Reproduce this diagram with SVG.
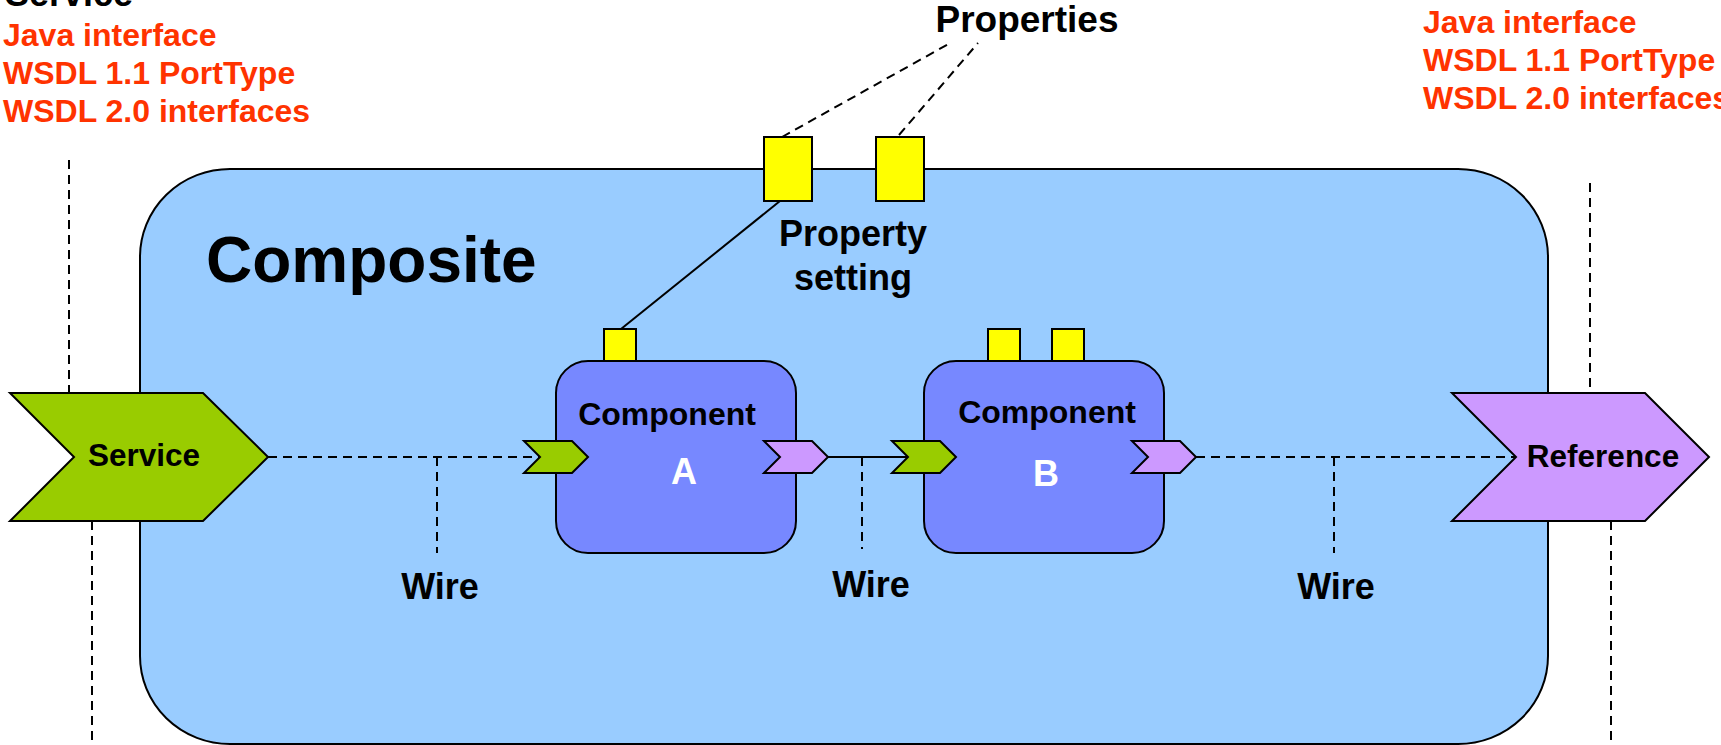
<svg xmlns="http://www.w3.org/2000/svg" width="1721" height="745" viewBox="0 0 1721 745">
<style>
text{font-family:"Liberation Sans",Arial,sans-serif;font-weight:bold;}
.red{fill:#FF3300;font-size:32px;}
.lbl{fill:#000;font-size:31.5px;text-anchor:middle;}
.cmp{fill:#000;font-size:32px;text-anchor:middle;}
.big{fill:#000;font-size:36px;text-anchor:middle;}
.white{fill:#fff;font-size:36px;text-anchor:middle;}
.dash{fill:none;stroke:#000;stroke-width:2;stroke-dasharray:9 6;}
.solid{fill:none;stroke:#000;stroke-width:2;}
.prop{fill:#FFFF00;stroke:#000;stroke-width:2;}
.comp{fill:#7788FF;stroke:#000;stroke-width:2;}
.svc{fill:#99CC00;stroke:#000;stroke-width:2;stroke-linejoin:miter;}
.ref{fill:#CC99FF;stroke:#000;stroke-width:2;stroke-linejoin:miter;}
</style>
<rect width="1721" height="745" fill="#fff"/>
<g id="service-legend">
<text x="5" y="6" style="font-size:36px">Service</text>
<text class="red" x="3" y="46">Java interface</text>
<text class="red" x="3" y="84">WSDL 1.1 PortType</text>
<text class="red" x="3" y="122">WSDL 2.0 interfaces</text>
</g>
<g id="reference-legend">
<text class="red" x="1423" y="33">Java interface</text>
<text class="red" x="1423" y="71">WSDL 1.1 PortType</text>
<text class="red" x="1423" y="109">WSDL 2.0 interfaces</text>
</g>
<g id="composite">
<rect x="140" y="169" width="1408" height="575" rx="90" ry="88" fill="#99CCFF" stroke="#000" stroke-width="2"/>
<text x="206" y="282" style="font-size:64px">Composite</text>
</g>
<g id="connectors">
<line class="dash" x1="69" y1="160" x2="69" y2="393"/>
<line class="dash" x1="92" y1="521" x2="92" y2="745"/>
<line class="dash" x1="1590" y1="183" x2="1590" y2="393"/>
<line class="dash" x1="1611" y1="521" x2="1611" y2="745"/>
<line class="dash" x1="268" y1="457" x2="540" y2="457"/>
<line class="dash" x1="437" y1="457" x2="437" y2="553"/>
<line class="solid" x1="828" y1="457" x2="908" y2="457"/>
<line class="dash" x1="862" y1="457" x2="862" y2="549"/>
<line class="dash" x1="1196" y1="457" x2="1516" y2="457"/>
<line class="dash" x1="1334" y1="457" x2="1334" y2="553"/>
<line class="solid" x1="780" y1="201" x2="621" y2="329"/>
<line class="dash" x1="782" y1="137" x2="952" y2="42"/>
<line class="dash" x1="899" y1="135" x2="978" y2="43"/>
</g>
<g id="labels">
<text class="big" x="1027" y="32" style="font-size:37px">Properties</text>
<text class="big" x="853" y="246">Property</text>
<text class="big" x="853" y="290">setting</text>
<text class="big" x="440" y="599">Wire</text>
<text class="big" x="871" y="597">Wire</text>
<text class="big" x="1336" y="599">Wire</text>
</g>
<g id="composite-properties">
<rect class="prop" x="764" y="137" width="48" height="64"/>
<rect class="prop" x="876" y="137" width="48" height="64"/>
</g>
<g id="service">
<polygon class="svc" points="10,393 203,393 268,457 203,521 10,521 74,457"/>
<text class="lbl" x="144" y="466">Service</text>
</g>
<g id="reference">
<polygon class="ref" points="1452,393 1645,393 1709,457 1645,521 1452,521 1516,457"/>
<text class="lbl" x="1603" y="467">Reference</text>
</g>
<g id="componentA">
<rect class="prop" x="604" y="329" width="32" height="48"/>
<rect class="comp" x="556" y="361" width="240" height="192" rx="32" ry="32"/>
<text class="cmp" x="667" y="425">Component</text>
<text class="white" x="684" y="484">A</text>
<polygon class="svc" points="524,441 572,441 588,457 572,473 524,473 540,457"/>
<polygon class="ref" points="764,441 812,441 828,457 812,473 764,473 780,457"/>
</g>
<g id="componentB">
<rect class="prop" x="988" y="329" width="32" height="48"/>
<rect class="prop" x="1052" y="329" width="32" height="48"/>
<rect class="comp" x="924" y="361" width="240" height="192" rx="32" ry="32"/>
<text class="cmp" x="1047" y="423">Component</text>
<text class="white" x="1046" y="486">B</text>
<polygon class="svc" points="892,441 940,441 956,457 940,473 892,473 908,457"/>
<polygon class="ref" points="1132,441 1180,441 1196,457 1180,473 1132,473 1148,457"/>
</g>
</svg>
